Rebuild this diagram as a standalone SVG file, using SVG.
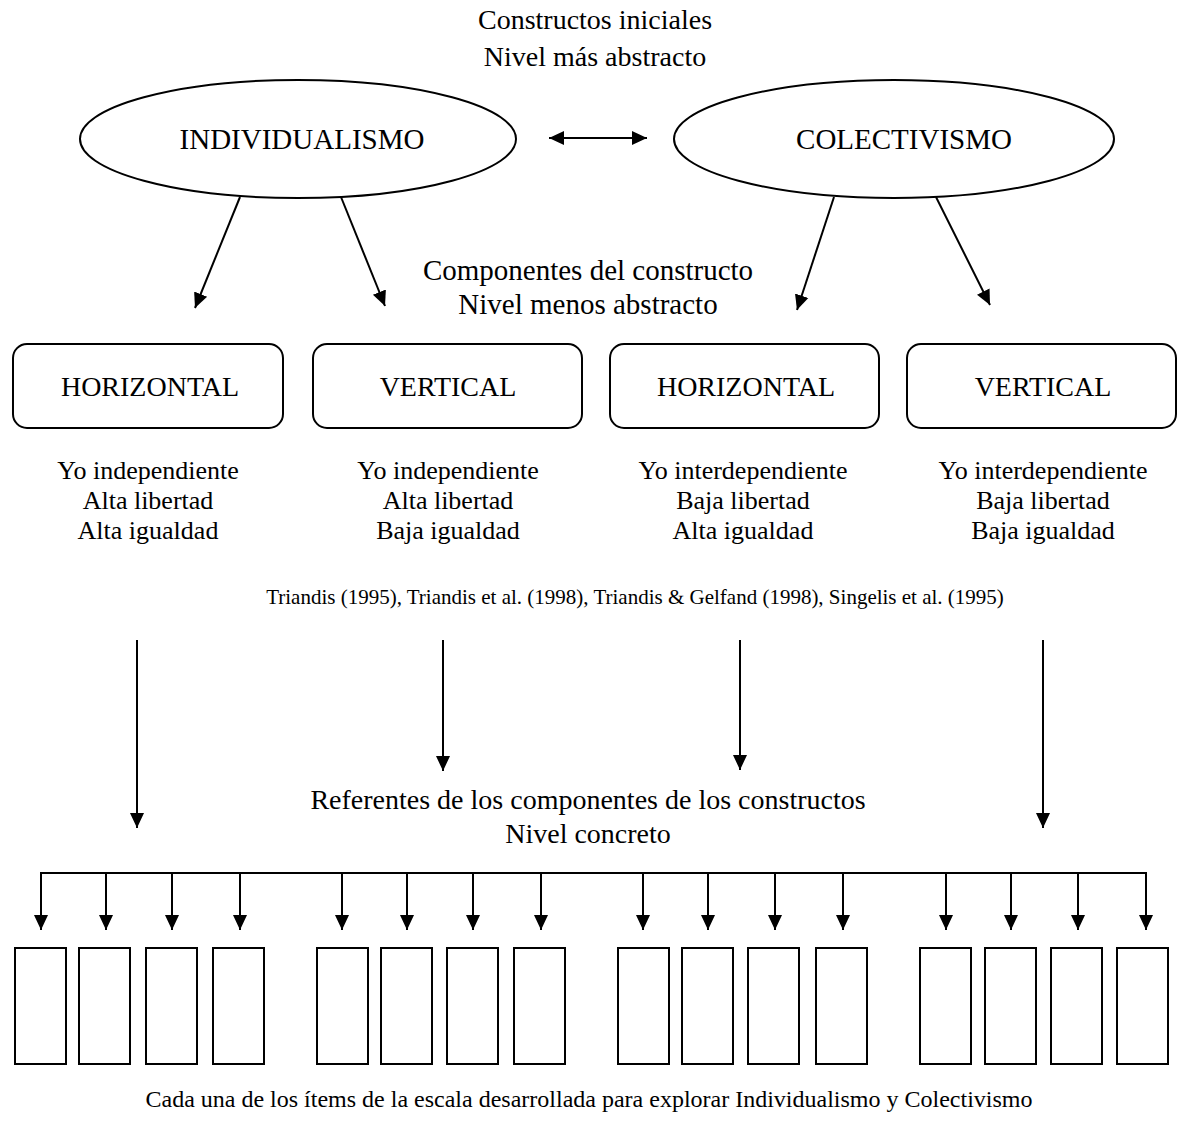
<svg xmlns="http://www.w3.org/2000/svg" width="1177" height="1124" viewBox="0 0 1177 1124">
  <style>
    text { font-family: "Liberation Serif", "Times New Roman", serif; fill: #000; text-anchor: middle; }
    .lbl { font-size: 28px; }
    .big { font-size: 29px; }
    .cap { font-size: 28px; }
    .mid { font-size: 29px; }
    .foot { font-size: 24px; }
    .desc { font-size: 26px; }
    .ref { font-size: 21px; }
    .shape { fill: #fff; stroke: #000; stroke-width: 2; }
    .edge { stroke: #000; stroke-width: 2; fill: none; }
  </style>
  <defs>
    <marker id="head" markerUnits="userSpaceOnUse" markerWidth="16" markerHeight="16" viewBox="0 0 16 16" refX="15" refY="8" orient="auto-start-reverse">
      <path d="M0,1 L15,8 L0,15 Z" fill="#000"/>
    </marker>
  </defs>
  <rect width="1177" height="1124" fill="#fff"/>

  <!-- level headings -->
  <g id="heading-abstract">
    <text class="cap" x="595" y="29">Constructos iniciales</text>
    <text class="cap" x="595" y="66">Nivel más abstracto</text>
  </g>
  <g id="heading-components">
    <text class="mid" x="588" y="280">Componentes del constructo</text>
    <text class="mid" x="588" y="314">Nivel menos abstracto</text>
  </g>
  <g id="heading-concrete">
    <text class="cap" x="588" y="809">Referentes de los componentes de los constructos</text>
    <text class="cap" x="588" y="843">Nivel concreto</text>
  </g>

  <!-- constructs -->
  <g id="individualismo">
    <ellipse class="shape" cx="298" cy="139" rx="218" ry="59"/>
    <text class="big" x="302" y="149">INDIVIDUALISMO</text>
  </g>
  <g id="colectivismo">
    <ellipse class="shape" cx="894" cy="139" rx="220" ry="59"/>
    <text class="big" x="904" y="149">COLECTIVISMO</text>
  </g>

  <!-- components -->
  <g id="ind-horizontal">
    <rect class="shape" x="13" y="344" width="270" height="84" rx="14"/>
    <text class="lbl" x="150" y="396">HORIZONTAL</text>
  </g>
  <g id="ind-vertical">
    <rect class="shape" x="313" y="344" width="269" height="84" rx="14"/>
    <text class="lbl" x="448" y="396">VERTICAL</text>
  </g>
  <g id="col-horizontal">
    <rect class="shape" x="610" y="344" width="269" height="84" rx="14"/>
    <text class="lbl" x="746" y="396">HORIZONTAL</text>
  </g>
  <g id="col-vertical">
    <rect class="shape" x="907" y="344" width="269" height="84" rx="14"/>
    <text class="lbl" x="1043" y="396">VERTICAL</text>
  </g>

  <!-- component descriptions -->
  <g id="desc-ind-horizontal">
    <text class="desc" x="148" y="479">Yo independiente</text>
    <text class="desc" x="148" y="509">Alta libertad</text>
    <text class="desc" x="148" y="539">Alta igualdad</text>
  </g>
  <g id="desc-ind-vertical">
    <text class="desc" x="448" y="479">Yo independiente</text>
    <text class="desc" x="448" y="509">Alta libertad</text>
    <text class="desc" x="448" y="539">Baja igualdad</text>
  </g>
  <g id="desc-col-horizontal">
    <text class="desc" x="743" y="479">Yo interdependiente</text>
    <text class="desc" x="743" y="509">Baja libertad</text>
    <text class="desc" x="743" y="539">Alta igualdad</text>
  </g>
  <g id="desc-col-vertical">
    <text class="desc" x="1043" y="479">Yo interdependiente</text>
    <text class="desc" x="1043" y="509">Baja libertad</text>
    <text class="desc" x="1043" y="539">Baja igualdad</text>
  </g>

  <g id="sources">
    <text class="ref" x="635" y="604">Triandis (1995), Triandis et al. (1998), Triandis &amp; Gelfand (1998), Singelis et al. (1995)</text>
  </g>

  <!-- scale items -->
  <g id="items" class="shape">
    <rect x="15" y="948" width="51" height="116"/>
    <rect x="79" y="948" width="51" height="116"/>
    <rect x="146" y="948" width="51" height="116"/>
    <rect x="213" y="948" width="51" height="116"/>
    <rect x="317" y="948" width="51" height="116"/>
    <rect x="381" y="948" width="51" height="116"/>
    <rect x="447" y="948" width="51" height="116"/>
    <rect x="514" y="948" width="51" height="116"/>
    <rect x="618" y="948" width="51" height="116"/>
    <rect x="682" y="948" width="51" height="116"/>
    <rect x="748" y="948" width="51" height="116"/>
    <rect x="816" y="948" width="51" height="116"/>
    <rect x="920" y="948" width="51" height="116"/>
    <rect x="985" y="948" width="51" height="116"/>
    <rect x="1051" y="948" width="51" height="116"/>
    <rect x="1117" y="948" width="51" height="116"/>
  </g>

  <g id="caption">
    <text class="foot" x="589" y="1107">Cada una de los ítems de la escala desarrollada para explorar Individualismo y Colectivismo</text>
  </g>

  <!-- connectors -->
  <g id="connectors" class="edge">
    <line x1="549" y1="138" x2="647" y2="138" marker-start="url(#head)" marker-end="url(#head)"/>
    <line x1="240" y1="197" x2="195" y2="308" marker-end="url(#head)"/>
    <line x1="341" y1="197" x2="385" y2="306" marker-end="url(#head)"/>
    <line x1="834" y1="197" x2="797" y2="310" marker-end="url(#head)"/>
    <line x1="936" y1="197" x2="990" y2="305" marker-end="url(#head)"/>

    <line x1="137" y1="640" x2="137" y2="828" marker-end="url(#head)"/>
    <line x1="443" y1="640" x2="443" y2="771" marker-end="url(#head)"/>
    <line x1="740" y1="640" x2="740" y2="770" marker-end="url(#head)"/>
    <line x1="1043" y1="640" x2="1043" y2="828" marker-end="url(#head)"/>

    <path d="M41,930 V873 H1146 V930" marker-end="url(#head)"/>
    <line x1="41" y1="873" x2="41" y2="930" marker-end="url(#head)"/>
    <line x1="106" y1="873" x2="106" y2="930" marker-end="url(#head)"/>
    <line x1="172" y1="873" x2="172" y2="930" marker-end="url(#head)"/>
    <line x1="240" y1="873" x2="240" y2="930" marker-end="url(#head)"/>
    <line x1="342" y1="873" x2="342" y2="930" marker-end="url(#head)"/>
    <line x1="407" y1="873" x2="407" y2="930" marker-end="url(#head)"/>
    <line x1="473" y1="873" x2="473" y2="930" marker-end="url(#head)"/>
    <line x1="541" y1="873" x2="541" y2="930" marker-end="url(#head)"/>
    <line x1="643" y1="873" x2="643" y2="930" marker-end="url(#head)"/>
    <line x1="708" y1="873" x2="708" y2="930" marker-end="url(#head)"/>
    <line x1="775" y1="873" x2="775" y2="930" marker-end="url(#head)"/>
    <line x1="843" y1="873" x2="843" y2="930" marker-end="url(#head)"/>
    <line x1="946" y1="873" x2="946" y2="930" marker-end="url(#head)"/>
    <line x1="1011" y1="873" x2="1011" y2="930" marker-end="url(#head)"/>
    <line x1="1078" y1="873" x2="1078" y2="930" marker-end="url(#head)"/>
  </g>
</svg>
